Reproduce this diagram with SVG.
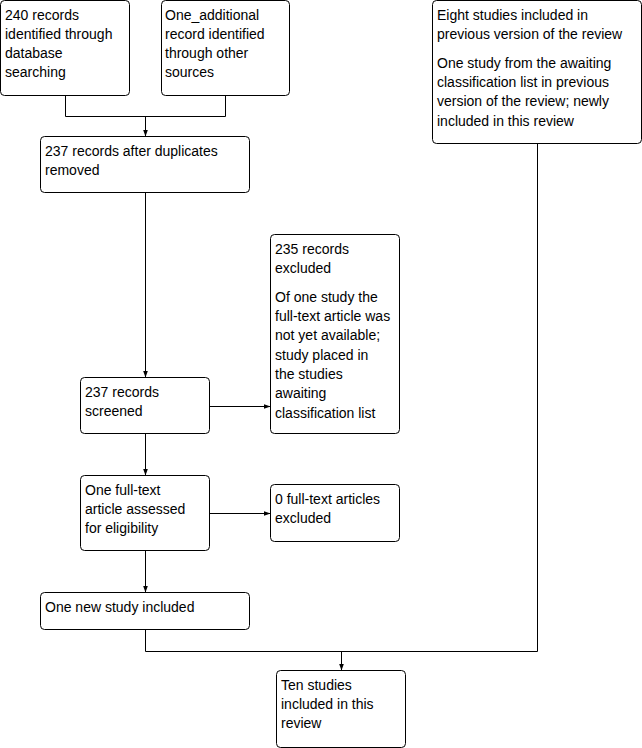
<svg xmlns="http://www.w3.org/2000/svg" width="642" height="748" viewBox="0 0 642 748">
<defs>
<style>
.box{fill:#fff;stroke:#000;stroke-width:1}
.t{font-family:"Liberation Sans",Arial,sans-serif;font-size:14px;fill:#000}
.c{fill:none;stroke:#000;stroke-width:1}
</style>
<marker id="ah" markerUnits="userSpaceOnUse" markerWidth="8" markerHeight="8" refX="7" refY="4" orient="auto">
<path d="M0,1.5 L7,4 L0,6.5 Z" fill="#000"/>
</marker>
</defs>
<rect width="642" height="748" fill="#fff"/>
<g id="connectors">
<path class="c" d="M65.5 95.5 V116.5 H225.5 V95.5"/>
<path class="c" d="M145.5 116.5 V136.5" marker-end="url(#ah)"/>
<path class="c" d="M145.5 192.5 V377.5" marker-end="url(#ah)"/>
<path class="c" d="M209.5 406.5 H270.5" marker-end="url(#ah)"/>
<path class="c" d="M145.5 433.5 V475.5" marker-end="url(#ah)"/>
<path class="c" d="M209.5 513.5 H270.5" marker-end="url(#ah)"/>
<path class="c" d="M145.5 550.5 V592.5" marker-end="url(#ah)"/>
<path class="c" d="M145.5 629.5 V651.5 H537.5 V143.5"/>
<path class="c" d="M341.5 651.5 V670.5" marker-end="url(#ah)"/>
</g>
<g id="n1">
<rect class="box" x="0.5" y="0.5" width="129" height="95" rx="4"/>
<text class="t" x="5" y="20">240 records</text>
<text class="t" x="5" y="39">identified through</text>
<text class="t" x="5" y="58">database</text>
<text class="t" x="5" y="77">searching</text>
</g>
<g id="n2">
<rect class="box" x="161.5" y="0.5" width="128" height="95" rx="4"/>
<text class="t" x="165" y="20">One_additional</text>
<text class="t" x="165" y="39">record identified</text>
<text class="t" x="165" y="58">through other</text>
<text class="t" x="165" y="77">sources</text>
</g>
<g id="n3">
<rect class="box" x="432.5" y="0.5" width="209" height="143" rx="4"/>
<text class="t" x="437" y="20">Eight studies included in</text>
<text class="t" x="437" y="39.3">previous version of the review</text>
<text class="t" x="437" y="67.8">One study from the awaiting</text>
<text class="t" x="437" y="87.1">classification list in previous</text>
<text class="t" x="437" y="106.4">version of the review; newly</text>
<text class="t" x="437" y="125.7">included in this review</text>
</g>
<g id="n4">
<rect class="box" x="40.5" y="136.5" width="209" height="56" rx="4"/>
<text class="t" x="45" y="156">237 records after duplicates</text>
<text class="t" x="45" y="175">removed</text>
</g>
<g id="n5">
<rect class="box" x="270.5" y="234.5" width="129" height="199" rx="4"/>
<text class="t" x="275" y="254">235 records</text>
<text class="t" x="275" y="273.3">excluded</text>
<text class="t" x="275" y="301.8">Of one study the</text>
<text class="t" x="275" y="321.1">full-text article was</text>
<text class="t" x="275" y="340.4">not yet available;</text>
<text class="t" x="275" y="359.7">study placed in</text>
<text class="t" x="275" y="379">the studies</text>
<text class="t" x="275" y="398.3">awaiting</text>
<text class="t" x="275" y="417.6">classification list</text>
</g>
<g id="n6">
<rect class="box" x="80.5" y="377.5" width="129" height="56" rx="4"/>
<text class="t" x="85" y="397">237 records</text>
<text class="t" x="85" y="416">screened</text>
</g>
<g id="n7">
<rect class="box" x="80.5" y="475.5" width="129" height="75" rx="4"/>
<text class="t" x="85" y="495">One full-text</text>
<text class="t" x="85" y="514">article assessed</text>
<text class="t" x="85" y="533">for eligibility</text>
</g>
<g id="n8">
<rect class="box" x="270.5" y="484.5" width="129" height="57" rx="4"/>
<text class="t" x="275" y="504">0 full-text articles</text>
<text class="t" x="275" y="523">excluded</text>
</g>
<g id="n9">
<rect class="box" x="40.5" y="592.5" width="209" height="37" rx="4"/>
<text class="t" x="45" y="612">One new study included</text>
</g>
<g id="n10">
<rect class="box" x="276.5" y="670.5" width="129" height="77" rx="4"/>
<text class="t" x="281" y="690">Ten studies</text>
<text class="t" x="281" y="709">included in this</text>
<text class="t" x="281" y="728">review</text>
</g>
</svg>
